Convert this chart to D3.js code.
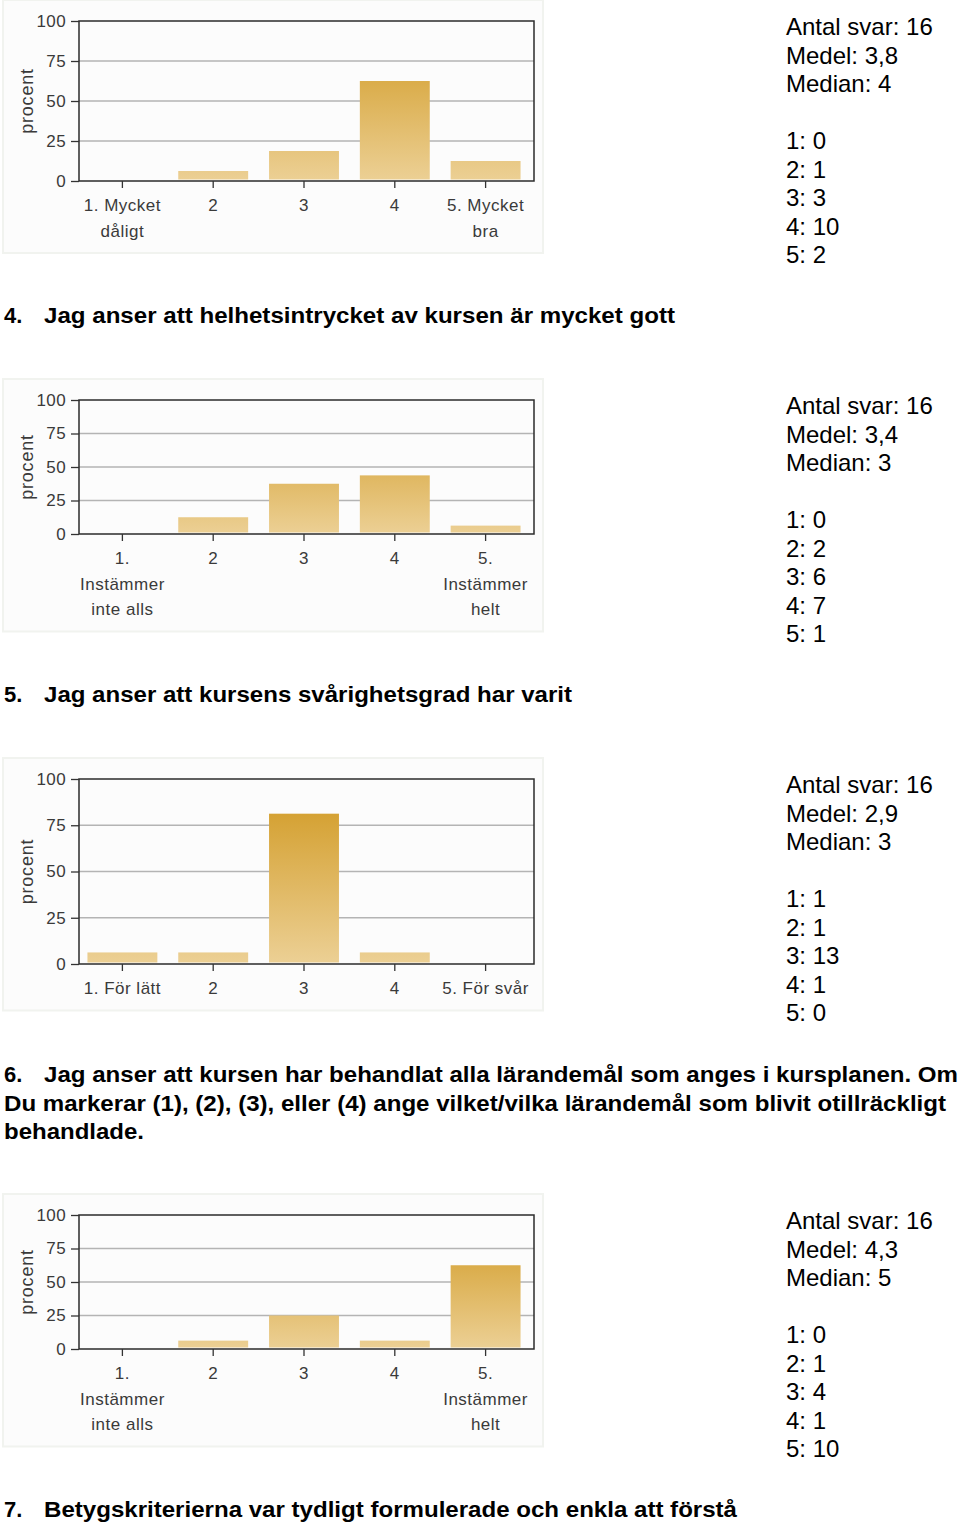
<!DOCTYPE html>
<html>
<head>
<meta charset="utf-8">
<script src="https://cdn.jsdelivr.net/npm/d3@7"></script>
<style>
  body { margin: 0; background: #fff; }
  svg { display: block; }
</style>
</head>
<body>
<script>
// answer counts per question (options 1..5)
const counts3 = [0, 1, 3, 10, 2];
const counts4 = [0, 2, 6, 7, 1];
const counts5 = [1, 1, 13, 1, 0];
const counts6 = [0, 1, 4, 1, 10];

const totals = [16, 16, 16, 16];
const means = ["3,8", "3,4", "2,9", "4,3"];
const medians = ["4", "3", "3", "5"];

const labels3 = [["1. Mycket", "dåligt"], ["2"], ["3"], ["4"], ["5. Mycket", "bra"]];
const labels4 = [["1.", "Instämmer", "inte alls"], ["2"], ["3"], ["4"], ["5.", "Instämmer", "helt"]];
const labels5 = [["1. För lätt"], ["2"], ["3"], ["4"], ["5. För svår"]];
const labels6 = labels4;

const yTicks = [0, 25, 50, 75, 100];
const options = ["1", "2", "3", "4", "5"];

const headings = [
  ["4.", ["Jag anser att helhetsintrycket av kursen är mycket gott"]],
  ["5.", ["Jag anser att kursens svårighetsgrad har varit"]],
  ["6.", ["Jag anser att kursen har behandlat alla lärandemål som anges i kursplanen. Om",
          "Du markerar (1), (2), (3), eller (4) ange vilket/vilka lärandemål som blivit otillräckligt",
          "behandlade."]],
  ["7.", ["Betygskriterierna var tydligt formulerade och enkla att förstå"]]
];

// layout of each block (plot top/bottom, stats baseline, heading baseline)
const panels = [
  {counts: counts3, labels: labels3, top: 21, bottom: 181, stats: 35, head: 323,
   widths: [631]},
  {counts: counts4, labels: labels4, top: 400, bottom: 534, stats: 414, head: 702,
   widths: [528]},
  {counts: counts5, labels: labels5, top: 779, bottom: 964, stats: 793, head: 1082,
   widths: [914, 942, 140]},
  {counts: counts6, labels: labels6, top: 1215, bottom: 1349, stats: 1229, head: 1517,
   widths: [693]}
];

const W = 960, H = 1523;
const left = 79, right = 534;
const tickFont = "'Liberation Sans', Arial, sans-serif";

const svg = d3.select("body").append("svg")
  .attr("width", W)
  .attr("height", H)
  .style("background", "#fff");

const defs = svg.append("defs");

panels.forEach((p, i) => {
  const nLines = d3.max(p.labels, d => d.length);
  const g = svg.append("g");

  // chart image background
  g.append("rect")
    .attr("x", 3)
    .attr("y", p.top - 21)
    .attr("width", 540)
    .attr("height", p.bottom - p.top + 21 + 21 + 25.5 * nLines)
    .attr("fill", "#fcfcfc")
    .attr("stroke", "#f1f3ef")
    .attr("stroke-width", 2);

  const x = d3.scaleBand()
    .domain(options)
    .range([77, 531])
    .paddingInner(0.23)
    .paddingOuter(0.115);

  const y = d3.scaleLinear()
    .domain([0, 100])
    .range([p.bottom, p.top]);

  const grad = defs.append("linearGradient")
    .attr("id", "bar" + i)
    .attr("gradientUnits", "userSpaceOnUse")
    .attr("x1", 0).attr("x2", 0)
    .attr("y1", y(88)).attr("y2", y(0));
  grad.append("stop").attr("offset", "0%").attr("stop-color", "#d39e2c");
  grad.append("stop").attr("offset", "100%").attr("stop-color", "#ecd095");

  // gridlines
  g.append("g")
    .selectAll("line")
    .data(yTicks.filter(t => t > 0 && t < 100))
    .join("line")
    .attr("x1", left).attr("x2", right)
    .attr("y1", d => y(d)).attr("y2", d => y(d))
    .attr("stroke", "#b4b4b4")
    .attr("stroke-width", 1.3);

  // bars
  const total = totals[i];
  g.append("g")
    .selectAll("rect")
    .data(p.counts)
    .join("rect")
    .attr("x", (d, j) => x(options[j]))
    .attr("width", x.bandwidth())
    .attr("y", d => y(d / total * 100))
    .attr("height", d => Math.max(0, y(0) - y(d / total * 100) - 1.5))
    .attr("fill", "url(#bar" + i + ")");

  // frame
  g.append("rect")
    .attr("x", left)
    .attr("y", p.top)
    .attr("width", right - left)
    .attr("height", p.bottom - p.top)
    .attr("fill", "none")
    .attr("stroke", "#2b2b2b")
    .attr("stroke-width", 1.5);

  // y axis
  const ya = g.append("g")
    .attr("transform", `translate(${left},0)`)
    .call(d3.axisLeft(y).tickValues(yTicks).tickSize(8).tickPadding(5));
  ya.select(".domain").remove();
  ya.selectAll("line").attr("stroke", "#333").attr("stroke-width", 1.3);
  ya.selectAll("text")
    .attr("fill", "#3a3a3a")
    .style("font-family", tickFont)
    .style("font-size", "17px")
    .style("letter-spacing", "0.4px");

  // x axis
  const xa = g.append("g")
    .attr("transform", `translate(0,${p.bottom})`)
    .call(d3.axisBottom(x).tickSize(7).tickFormat(""));
  xa.select(".domain").remove();
  xa.selectAll("line").attr("stroke", "#333").attr("stroke-width", 1.3);
  xa.selectAll(".tick text").remove();

  g.append("g")
    .selectAll("text")
    .data(p.labels)
    .join("text")
    .attr("text-anchor", "middle")
    .attr("fill", "#3a3a3a")
    .style("font-family", tickFont)
    .style("font-size", "17px")
    .style("letter-spacing", "0.5px")
    .each(function(lines, j) {
      d3.select(this).selectAll("tspan")
        .data(lines)
        .join("tspan")
        .attr("x", x(options[j]) + x.bandwidth() / 2)
        .attr("y", (d, k) => p.bottom + 30 + k * 25.5)
        .text(d => d);
    });

  // y label
  g.append("text")
    .attr("transform", `translate(33,${(p.top + p.bottom) / 2}) rotate(-90)`)
    .attr("text-anchor", "middle")
    .attr("fill", "#3a3a3a")
    .style("font-family", tickFont)
    .style("font-size", "18px")
    .style("letter-spacing", "0.8px")
    .text("procent");

  // stats text
  const stats = [
    "Antal svar: " + total,
    "Medel: " + means[i],
    "Median: " + medians[i],
    "",
    ...p.counts.map((c, j) => options[j] + ": " + c)
  ];
  g.append("g")
    .selectAll("text")
    .data(stats)
    .join("text")
    .attr("x", 786)
    .attr("y", (d, k) => p.stats + k * 28.5)
    .attr("fill", "#000")
    .style("font-family", "'Liberation Sans', Arial, sans-serif")
    .style("font-size", "24px")
    .text(d => d);

  // heading
  const [num, lines] = headings[i];
  g.append("text")
    .attr("x", 4)
    .attr("y", p.head)
    .style("font-family", "'Liberation Sans', Arial, sans-serif")
    .style("font-weight", "bold")
    .style("font-size", "22px")
    .text(num);
  lines.forEach((line, k) => {
    g.append("text")
      .attr("x", k === 0 ? 44 : 4)
      .attr("y", p.head + k * 28.5)
      .attr("textLength", p.widths[k])
      .attr("lengthAdjust", "spacingAndGlyphs")
      .style("font-family", "'Liberation Sans', Arial, sans-serif")
      .style("font-weight", "bold")
      .style("font-size", "22px")
      .text(line);
  });
});
</script>
</body>
</html>
